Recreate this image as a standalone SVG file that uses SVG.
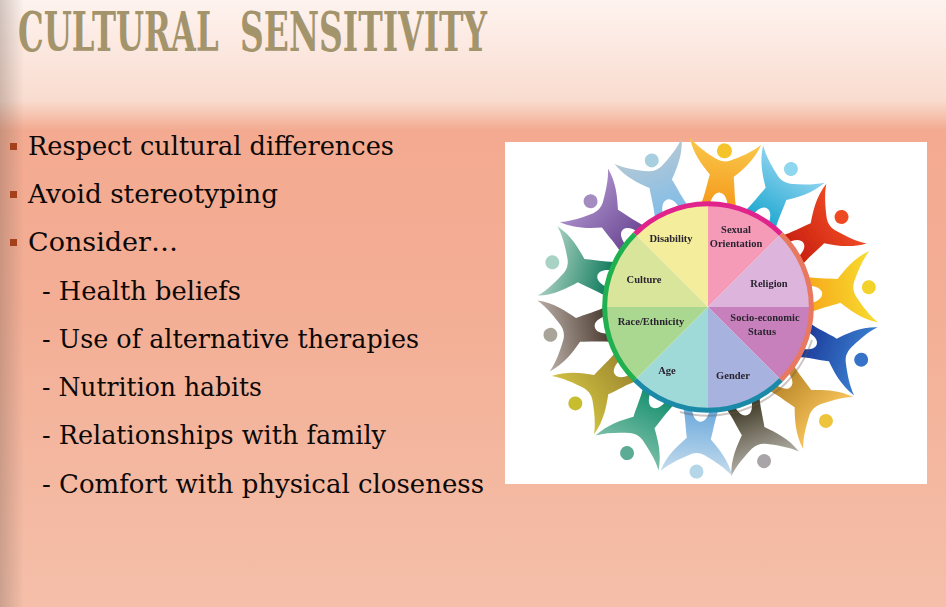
<svg xmlns="http://www.w3.org/2000/svg" width="946" height="607" viewBox="0 0 946 607">
<style>
.title{font-family:"DejaVu Serif","Liberation Serif",serif;font-weight:700;font-size:55px;fill:#a3946c}
.t{font-family:"DejaVu Serif","Liberation Serif",serif;font-size:26.5px;fill:#0c0806}
.b{fill:#a5401c}
.l{font-family:"Liberation Serif",serif;font-size:10.5px;fill:#2a2430;text-anchor:middle;font-weight:700}
</style>
<defs>
<linearGradient id="bg" x1="0" y1="0" x2="0" y2="1">
<stop offset="0" stop-color="#fef3ef"/><stop offset=".165" stop-color="#f9dccf"/><stop offset=".215" stop-color="#f3aa90"/><stop offset=".5" stop-color="#f3ae95"/><stop offset="1" stop-color="#f5bfa9"/>
</linearGradient>
<linearGradient id="edge" x1="0" y1="0" x2="1" y2="0">
<stop offset="0" stop-color="#6a5a50" stop-opacity=".3"/><stop offset="1" stop-color="#6a5a50" stop-opacity="0"/>
</linearGradient>
<path id="fig" d="M-18 3C-15-6-14-18-12-28C-20-36-31-47-36-63C-28-55-17-49-7-44Q0-41 7-44C17-49 28-55 36-63C31-47 20-36 12-28C14-18 15-6 18 3L9 2C8-5 5-11 0-11C-5-11-8-5-9 2Z"/>
<linearGradient id="g1" x1="0" y1="0" x2="0" y2="1"><stop offset="0" stop-color="#f9c84a"/><stop offset="1" stop-color="#f59a1c"/></linearGradient>
<linearGradient id="g2" x1="0" y1="0" x2="0" y2="1"><stop offset="0" stop-color="#8fd3ef"/><stop offset="1" stop-color="#1fa8d0"/></linearGradient>
<linearGradient id="g3" x1="0" y1="0" x2="0" y2="1"><stop offset="0" stop-color="#ef4a25"/><stop offset="1" stop-color="#c8200f"/></linearGradient>
<linearGradient id="g4" x1="0" y1="0" x2="0" y2="1"><stop offset="0" stop-color="#f7dc30"/><stop offset="1" stop-color="#f7a91c"/></linearGradient>
<linearGradient id="g5" x1="0" y1="0" x2="0" y2="1"><stop offset="0" stop-color="#3a7fd0"/><stop offset="1" stop-color="#1c3a9a"/></linearGradient>
<linearGradient id="g6" x1="0" y1="0" x2="0" y2="1"><stop offset="0" stop-color="#f9c45a"/><stop offset="1" stop-color="#b8862a"/></linearGradient>
<linearGradient id="g7" x1="0" y1="0" x2="0" y2="1"><stop offset="0" stop-color="#b5b0a8"/><stop offset="1" stop-color="#3a3520"/></linearGradient>
<linearGradient id="g8" x1="0" y1="0" x2="0" y2="1"><stop offset="0" stop-color="#c5dcec"/><stop offset="1" stop-color="#6aa8dc"/></linearGradient>
<linearGradient id="g9" x1="0" y1="0" x2="0" y2="1"><stop offset="0" stop-color="#7cbfa8"/><stop offset="1" stop-color="#17906f"/></linearGradient>
<linearGradient id="g10" x1="0" y1="0" x2="0" y2="1"><stop offset="0" stop-color="#cfc040"/><stop offset="1" stop-color="#a08a30"/></linearGradient>
<linearGradient id="g11" x1="0" y1="0" x2="0" y2="1"><stop offset="0" stop-color="#b8aca4"/><stop offset="1" stop-color="#4a3a30"/></linearGradient>
<linearGradient id="g12" x1="0" y1="0" x2="0" y2="1"><stop offset="0" stop-color="#a8d0c0"/><stop offset="1" stop-color="#0f7a5c"/></linearGradient>
<linearGradient id="g13" x1="0" y1="0" x2="0" y2="1"><stop offset="0" stop-color="#a88cc8"/><stop offset="1" stop-color="#6d4a95"/></linearGradient>
<linearGradient id="g14" x1="0" y1="0" x2="0" y2="1"><stop offset="0" stop-color="#b5c8d5"/><stop offset="1" stop-color="#80bde8"/></linearGradient>
<filter id="soft" x="-5%" y="-5%" width="110%" height="110%"><feGaussianBlur stdDeviation=".6"/></filter>
</defs>

<rect id="background" width="946" height="607" fill="url(#bg)"/>
<rect id="left-edge" width="24" height="607" fill="url(#edge)"/>

<g id="title">
<text class="title" transform="translate(18 51) scale(.587 1)">CULTURAL</text>
<text class="title" transform="translate(240 51) scale(.599 1)">SENSITIVITY</text>
</g>

<g id="bullets">
<rect class="b" x="10" y="143" width="7" height="7"/>
<text class="t" x="28" y="155" textLength="366" lengthAdjust="spacingAndGlyphs">Respect cultural differences</text>
<rect class="b" x="10" y="191" width="7" height="7"/>
<text class="t" x="28" y="203" textLength="250" lengthAdjust="spacingAndGlyphs">Avoid stereotyping</text>
<rect class="b" x="10" y="239" width="7" height="7"/>
<text class="t" x="28" y="251" textLength="150" lengthAdjust="spacingAndGlyphs">Consider…</text>
<text class="t" x="42" y="300" textLength="199" lengthAdjust="spacingAndGlyphs">- Health beliefs</text>
<text class="t" x="42" y="348" textLength="377" lengthAdjust="spacingAndGlyphs">- Use of alternative therapies</text>
<text class="t" x="42" y="396" textLength="220" lengthAdjust="spacingAndGlyphs">- Nutrition habits</text>
<text class="t" x="42" y="444" textLength="344" lengthAdjust="spacingAndGlyphs">- Relationships with family</text>
<text class="t" x="42" y="493" textLength="442" lengthAdjust="spacingAndGlyphs">- Comfort with physical closeness</text>
</g>

<g id="picture">
<rect x="505" y="142" width="422" height="342" fill="#fff"/>
<g id="figures" filter="url(#soft)">
<g id="fig1" transform="translate(708 307) rotate(6) translate(0 -104)"><use href="#fig" fill="url(#g1)"/><circle cy="-53" r="7.5" fill="#f5c32c"/></g>
<g id="fig2" transform="translate(708 307) rotate(31) translate(0 -104)"><use href="#fig" fill="url(#g2)"/><circle cy="-57" r="7" fill="#8fd6ef"/></g>
<g id="fig3" transform="translate(708 307) rotate(56) translate(0 -104)"><use href="#fig" fill="url(#g3)"/><circle cy="-57" r="7" fill="#ee4a22"/></g>
<g id="fig4" transform="translate(708 307) rotate(83) translate(0 -104)"><use href="#fig" fill="url(#g4)"/><circle cy="-58" r="7" fill="#f3d22a"/></g>
<g id="fig5" transform="translate(708 307) rotate(109) translate(0 -104)"><use href="#fig" fill="url(#g5)"/><circle cy="-58" r="7" fill="#3672c8"/></g>
<g id="fig6" transform="translate(708 307) rotate(134) translate(0 -104)"><use href="#fig" fill="url(#g6)"/><circle cy="-60" r="7" fill="#eec43c"/></g>
<g id="fig7" transform="translate(708 307) rotate(160) translate(0 -104)"><use href="#fig" fill="url(#g7)"/><circle cy="-60" r="7" fill="#a9a4a8"/></g>
<g id="fig8" transform="translate(708 307) rotate(184) translate(0 -104)"><use href="#fig" fill="url(#g8)"/><circle cy="-61" r="7" fill="#b5d5e8"/></g>
<g id="fig9" transform="translate(708 307) rotate(209) translate(0 -104)"><use href="#fig" fill="url(#g9)"/><circle cy="-63" r="7" fill="#5cab94"/></g>
<g id="fig10" transform="translate(708 307) rotate(234) translate(0 -104)"><use href="#fig" fill="url(#g10)"/><circle cy="-60" r="7" fill="#c8bd2e"/></g>
<g id="fig11" transform="translate(708 307) rotate(260) translate(0 -104)"><use href="#fig" fill="url(#g11)"/><circle cy="-56" r="7" fill="#a9a49a"/></g>
<g id="fig12" transform="translate(708 307) rotate(286) translate(0 -104)"><use href="#fig" fill="url(#g12)"/><circle cy="-58" r="7" fill="#a8d2c4"/></g>
<g id="fig13" transform="translate(708 307) rotate(312) translate(0 -104)"><use href="#fig" fill="url(#g13)"/><circle cy="-54" r="7" fill="#a58cc0"/></g>
<g id="fig14" transform="translate(708 307) rotate(339) translate(0 -104)"><use href="#fig" fill="url(#g14)"/><circle cy="-53" r="7" fill="#a8cfe0"/></g>
</g>
<g id="wheel">
<path d="M812 340A109 109 0 0 1 680 412" fill="none" stroke="#6a5a50" stroke-width="2" stroke-opacity=".35"/>
<g id="sector-disability"><path d="M708 307L635 234A103 103 0 0 1 708 204Z" fill="#f4ee9c"/><text class="l" x="671" y="242">Disability</text></g>
<g id="sector-sexual-orientation"><path d="M708 307V204A103 103 0 0 1 781 234Z" fill="#f59bb8"/><text class="l" x="736" y="233">Sexual</text><text class="l" x="736" y="247">Orientation</text></g>
<g id="sector-religion"><path d="M708 307L781 234A103 103 0 0 1 811 307Z" fill="#dcb4dc"/><text class="l" x="769" y="287">Religion</text></g>
<g id="sector-socio-economic"><path d="M708 307H811A103 103 0 0 1 781 380Z" fill="#c880bd"/><text class="l" x="765" y="321">Socio-economic</text><text class="l" x="762" y="335">Status</text></g>
<g id="sector-gender"><path d="M708 307L781 380A103 103 0 0 1 708 410Z" fill="#a7b2de"/><text class="l" x="733" y="379">Gender</text></g>
<g id="sector-age"><path d="M708 307V410A103 103 0 0 1 635 380Z" fill="#a0dad8"/><text class="l" x="667" y="374">Age</text></g>
<g id="sector-race"><path d="M708 307L635 380A103 103 0 0 1 605 307Z" fill="#aad890"/><text class="l" x="651" y="325">Race/Ethnicity</text></g>
<g id="sector-culture"><path d="M708 307H605A103 103 0 0 1 635 234Z" fill="#d9e59b"/><text class="l" x="644" y="283">Culture</text></g>
<g id="ring" fill="none" stroke-width="5">
<path d="M635 234A103 103 0 0 1 781 234" stroke="#e0248c"/>
<path d="M781 234A103 103 0 0 1 781 380" stroke="#e8785f"/>
<path d="M781 380A103 103 0 0 1 635 380" stroke="#1b8aa8"/>
<path d="M635 380A103 103 0 0 1 635 234" stroke="#20b050"/>
</g>
</g>
</g>
</svg>
